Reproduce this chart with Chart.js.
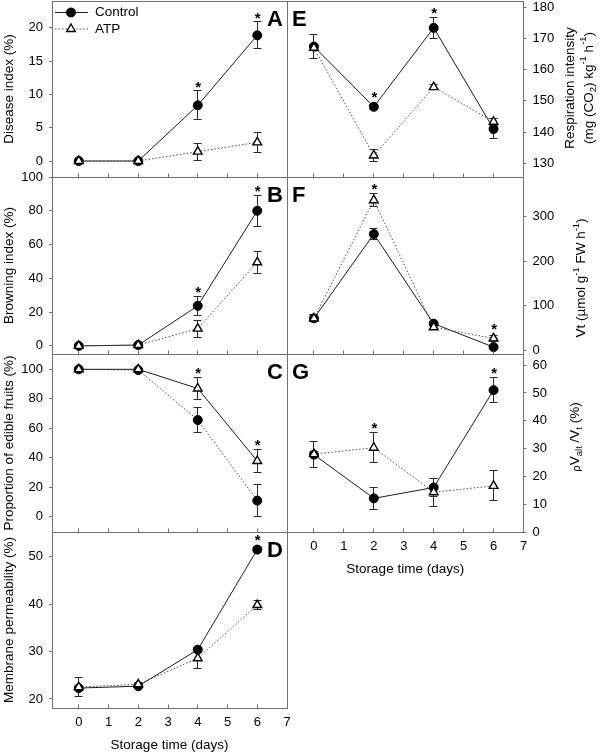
<!DOCTYPE html>
<html><head><meta charset="utf-8">
<script src="https://cdn.jsdelivr.net/npm/chart.js@4/dist/chart.umd.min.js"></script>
<style>
html,body{margin:0;padding:0;background:#fff;width:600px;height:753px;overflow:hidden;position:relative}
canvas{position:absolute}
</style></head><body>
<script>
// ---------- data ----------
const days = [0, 2, 4, 6];
const xTicks = [0, 1, 2, 3, 4, 5, 6, 7];
const xTitle = 'Storage time (days)';
const seriesNames = ['Control', 'ATP'];

// A: Disease index
const disCtrl = [0, 0, 8.35, 18.85];
const disCtrlErr = [0, 0, 2.15, 2.0];
const disATP = [0, 0, 1.4, 2.8];
const disATPErr = [0, 0, 1.3, 1.5];
const disTicks = [0, 5, 10, 15, 20];

// B: Browning index
const brCtrl = [0, 0.5, 23.7, 80];
const brCtrlErr = [0, 0, 5.6, 9.2];
const brATP = [0, 0.5, 10.2, 49.5];
const brATPErr = [0, 0, 5, 6.5];
const brTicks = [0, 20, 40, 60, 80, 100];

// C: Proportion of edible fruits
const edCtrl = [100, 99.5, 65.6, 10.9];
const edCtrlErr = [0, 0, 8.6, 11];
const edATP = [100, 100, 87, 37.8];
const edATPErr = [0, 0, 7.6, 8.1];
const edTicks = [0, 20, 40, 60, 80, 100];

// D: Membrane permeability
const mpCtrl = [22.3, 22.7, 30.4, 51.5];
const mpCtrlErr = [0, 0.3, 0.5, 0.6];
const mpATP = [22.5, 23.1, 28.6, 39.8];
const mpATPErr = [2, 0.4, 2.2, 1];
const mpTicks = [20, 30, 40, 50];

// E: Respiration intensity
const riCtrl = [167.4, 148.1, 173.4, 141];
const riCtrlErr = [3.8, 0.8, 3.3, 3.2];
const riATP = [167, 132.5, 154.4, 143.3];
const riATPErr = [1, 2, 0.7, 1.2];
const riTicks = [130, 140, 150, 160, 170, 180];

// F: Vt
const vtCtrl = [72, 261, 60, 7.5];
const vtCtrlErr = [8, 13, 5, 4];
const vtATP = [72, 337, 52, 27];
const vtATPErr = [8, 14, 4, 6];
const vtTicks = [0, 100, 200, 300];

// G: pValt/Vt
const paCtrl = [27.8, 12.1, 16, 51];
const paCtrlErr = [4.7, 4, 3.4, 4.6];
const paATP = [28, 30.3, 14.3, 16.6];
const paATPErr = [1, 5.4, 5, 5.4];
const paTicks = [0, 10, 20, 30, 40, 50, 60];

// ---------- rendering ----------
const FONT = "'Liberation Sans', Arial, Helvetica, sans-serif";
Chart.defaults.font.family = FONT;
Chart.defaults.color = '#000';
const FRAME = '#707070';
const TICKFONT = 13;
const TITLEFONT = 13.5;

function drawRich(ctx, cx, cy, segs, size) {
  ctx.save();
  ctx.translate(cx, cy);
  ctx.rotate(-Math.PI / 2);
  ctx.textBaseline = 'middle';
  ctx.textAlign = 'left';
  ctx.fillStyle = '#000';
  let total = 0;
  const items = segs.map(s => {
    const fs = s.k === 'sm' ? size * 0.85 : s.k ? size * 0.7 : size;
    ctx.font = fs + 'px ' + FONT;
    const w = ctx.measureText(s.t).width;
    total += w;
    return { t: s.t, k: s.k, fs, w };
  });
  let x = -total / 2;
  items.forEach(it => {
    ctx.font = it.fs + 'px ' + FONT;
    const dy = it.k === 'sup' ? -size * 0.38 : it.k === 'sub' ? size * 0.3 : it.k === 'sm' ? size * 0.1 : 0;
    ctx.fillText(it.t, x, dy);
    x += it.w;
  });
  ctx.restore();
}

function makePanel(p) {
  const right = p.col === 'right';
  const showX = !!p.showX;
  const padTop = 20, padBot = showX ? 0 : 20, xH = 45;
  const plotH = p.bottom - p.top;
  const cx = right ? 280 : 0, cw = right ? 320 : 300;
  const cy = p.top - padTop;
  const ch = padTop + plotH + (showX ? xH : padBot);
  const cv = document.createElement('canvas');
  cv.width = cw; cv.height = ch;
  cv.style.left = cx + 'px'; cv.style.top = cy + 'px';
  cv.style.width = cw + 'px'; cv.style.height = ch + 'px';
  document.body.appendChild(cv);

  const styleOf = s => ({
    borderColor: s.dashed ? '#4a4a4a' : '#1e1e1e',
    borderWidth: 1,
    borderDash: s.dashed ? [1.5, 2] : [],
    pointStyle: s.marker,
    pointRadius: s.marker === 'circle' ? 4.5 : 5,
    pointBackgroundColor: s.marker === 'circle' ? '#000' : '#fff',
    pointBorderColor: '#000',
    pointBorderWidth: s.marker === 'circle' ? 1 : 1.4,
    order: s.marker === 'circle' ? 1 : 0
  });

  const decor = {
    id: 'decor' + p.letter,
    beforeDatasetsDraw(chart) {
      const ctx = chart.ctx, xs = chart.scales.x, ys = chart.scales.y;
      ctx.save();
      ctx.strokeStyle = '#2a2a2a'; ctx.lineWidth = 1;
      p.series.forEach(s => {
        days.forEach((d, i) => {
          const e = s.errs[i];
          if (!e) return;
          const x = Math.floor(xs.getPixelForValue(d)) + 0.5;
          const y1 = ys.getPixelForValue(s.vals[i] + e);
          const y2 = ys.getPixelForValue(s.vals[i] - e);
          const r1 = Math.floor(y1) + 0.5, r2 = Math.floor(y2) + 0.5;
          ctx.beginPath();
          ctx.moveTo(x, r1); ctx.lineTo(x, r2);
          if (y2 - y1 > 3) {
            ctx.moveTo(x - 4, r1); ctx.lineTo(x + 4, r1);
            ctx.moveTo(x - 4, r2); ctx.lineTo(x + 4, r2);
          }
          ctx.stroke();
        });
      });
      ctx.restore();
    },
    afterDraw(chart) {
      const ctx = chart.ctx, ca = chart.chartArea, xs = chart.scales.x, ys = chart.scales.y;
      ctx.save();
      // frame
      const L = Math.floor(ca.left) + 0.5, R = Math.floor(ca.right) + 0.5;
      const T = Math.floor(ca.top) + 0.5, B = Math.floor(ca.bottom) + 0.5;
      ctx.strokeStyle = FRAME; ctx.lineWidth = 1;
      ctx.strokeRect(L, T, R - L, B - T);
      // inner x ticks
      ctx.beginPath();
      xTicks.forEach(v => {
        const x = Math.floor(xs.getPixelForValue(v)) + 0.5;
        ctx.moveTo(x, B); ctx.lineTo(x, B - 4);
      });
      ctx.stroke();
      // stars
      ctx.fillStyle = '#000';
      ctx.font = 'bold 15px ' + FONT;
      ctx.textAlign = 'center'; ctx.textBaseline = 'alphabetic';
      (p.stars || []).forEach(([si, i]) => {
        const s = p.series[si];
        const x = xs.getPixelForValue(days[i]);
        const yE = ys.getPixelForValue(s.vals[i] + s.errs[i]);
        const yP = ys.getPixelForValue(s.vals[i]) - 5;
        const y = Math.min(yE, yP);
        ctx.fillText('*', x + 0.5, y + 0.5);
      });
      // panel letter
      ctx.font = 'bold 22px ' + FONT;
      ctx.textBaseline = 'alphabetic';
      if (right) { ctx.textAlign = 'left'; ctx.fillText(p.letter, ca.left + 5, ca.top + 25); }
      else { ctx.textAlign = 'right'; ctx.fillText(p.letter, ca.right - 4, ca.top + 25); }
      // legend
      if (p.legend) {
        const lx = ca.left + 3, y1 = ca.top + 11.5, y2 = ca.top + 28;
        ctx.lineWidth = 1;
        ctx.strokeStyle = '#1e1e1e'; ctx.setLineDash([]);
        ctx.beginPath(); ctx.moveTo(lx, y1); ctx.lineTo(lx + 33, y1); ctx.stroke();
        ctx.strokeStyle = '#4a4a4a'; ctx.setLineDash([1.5, 2]);
        ctx.beginPath(); ctx.moveTo(lx, y2); ctx.lineTo(lx + 33, y2); ctx.stroke();
        ctx.setLineDash([]);
        ctx.fillStyle = '#000'; ctx.strokeStyle = '#000';
        Chart.helpers.drawPoint(ctx, { pointStyle: 'circle', radius: 4.5, borderWidth: 1, rotation: 0 }, lx + 16, y1);
        ctx.fillStyle = '#fff'; ctx.lineWidth = 1.4;
        Chart.helpers.drawPoint(ctx, { pointStyle: 'triangle', radius: 5, borderWidth: 1.4, rotation: 0 }, lx + 16, y2);
        ctx.fillStyle = '#000';
        ctx.font = '13.5px ' + FONT; ctx.textAlign = 'left'; ctx.textBaseline = 'middle';
        ctx.fillText(seriesNames[0], lx + 40, y1);
        ctx.fillText(seriesNames[1], lx + 40, y2);
      }
      // rich right titles
      if (p.rich) {
        p.rich.forEach(r => drawRich(ctx, ca.right + r.dx, r.cy - cy, r.segs, TITLEFONT));
      }
      ctx.restore();
    }
  };

  new Chart(cv, {
    type: 'line',
    data: {
      datasets: p.series.map(s => Object.assign({
        label: s.name,
        data: days.map((d, i) => ({ x: d, y: s.vals[i] })),
        tension: 0, fill: false
      }, styleOf(s)))
    },
    options: {
      responsive: false, animation: false, devicePixelRatio: 1, events: [],
      layout: { padding: { top: padTop, bottom: showX ? 0 : padBot, left: right ? 7 : 0, right: right ? 0 : 13 } },
      plugins: { legend: { display: false }, tooltip: { enabled: false } },
      scales: {
        x: {
          type: 'linear', min: -0.9, max: 7, display: showX,
          afterBuildTicks: sc => { sc.ticks = xTicks.map(v => ({ value: v })); },
          grid: { display: false, drawTicks: false },
          border: { display: false },
          ticks: { padding: 7, autoSkip: false, maxRotation: 0, font: { size: TICKFONT }, color: '#000', callback: v => String(v) },
          title: { display: true, text: xTitle, font: { size: TITLEFONT }, color: '#000', padding: { top: 0, bottom: 0 } },
          afterFit: sc => { sc.height = showX ? xH : 0; }
        },
        y: {
          type: 'linear', position: right ? 'right' : 'left', min: p.min, max: p.max,
          afterBuildTicks: sc => { sc.ticks = p.ticks.map(v => ({ value: v })); },
          grid: { drawOnChartArea: false, drawTicks: true, tickLength: 3, color: FRAME },
          border: { display: false },
          ticks: { padding: 6, autoSkip: false, font: { size: TICKFONT }, color: '#000', callback: v => String(v) },
          title: { display: !right, text: p.title || '', font: { size: TITLEFONT }, color: '#000', padding: { top: 1.5, bottom: 0 } },
          afterFit: sc => { sc.width = right ? 76.5 : 52; }
        }
      }
    },
    plugins: [decor]
  });
}

const C = (vals, errs, dashed) => ({ name: seriesNames[0], vals, errs, marker: 'circle', dashed });
const T = (vals, errs, dashed) => ({ name: seriesNames[1], vals, errs, marker: 'triangle', dashed });

makePanel({ col: 'left', letter: 'A', top: 1, bottom: 177, min: -2.4, max: 24, ticks: disTicks,
  title: 'Disease index (%)', legend: true,
  series: [C(disCtrl, disCtrlErr, false), T(disATP, disATPErr, true)], stars: [[0, 2], [0, 3]] });
makePanel({ col: 'left', letter: 'B', top: 177, bottom: 354, min: -4.8, max: 100, ticks: brTicks,
  title: 'Browning index (%)',
  series: [C(brCtrl, brCtrlErr, false), T(brATP, brATPErr, true)], stars: [[0, 2], [0, 3]] });
makePanel({ col: 'left', letter: 'C', top: 354, bottom: 532, min: -10.4, max: 110.4, ticks: edTicks,
  title: 'Proportion of edible fruits (%)',
  series: [C(edCtrl, edCtrlErr, true), T(edATP, edATPErr, false)], stars: [[1, 2], [1, 3]] });
makePanel({ col: 'left', letter: 'D', top: 532, bottom: 708, min: 18.1, max: 55.2, ticks: mpTicks,
  title: 'Membrane permeability (%)', showX: true,
  series: [C(mpCtrl, mpCtrlErr, false), T(mpATP, mpATPErr, true)], stars: [[0, 3]] });
makePanel({ col: 'right', letter: 'E', top: 1, bottom: 177, min: 125.6, max: 182, ticks: riTicks,
  series: [C(riCtrl, riCtrlErr, false), T(riATP, riATPErr, true)], stars: [[0, 1], [0, 2]],
  rich: [
    { dx: 46.5, cy: 88, segs: [{ t: 'Respiration intensity' }] },
    { dx: 65.5, cy: 88, segs: [{ t: '(mg (CO' }, { t: '2', k: 'sub' }, { t: ') kg' }, { t: '-1', k: 'sup' }, { t: ' h' }, { t: '-1', k: 'sup' }, { t: ')' }] }
  ] });
makePanel({ col: 'right', letter: 'F', top: 177, bottom: 354, min: -8, max: 389, ticks: vtTicks,
  series: [C(vtCtrl, vtCtrlErr, false), T(vtATP, vtATPErr, true)], stars: [[1, 1], [1, 3]],
  rich: [ { dx: 58, cy: 278, segs: [{ t: 'Vt (µmol g' }, { t: '-1', k: 'sup' }, { t: ' FW h' }, { t: '-1', k: 'sup' }, { t: ')' }] } ] });
makePanel({ col: 'right', letter: 'G', top: 354, bottom: 532, min: 0, max: 64, ticks: paTicks, showX: true,
  series: [C(paCtrl, paCtrlErr, false), T(paATP, paATPErr, true)], stars: [[1, 1], [0, 3]],
  rich: [ { dx: 52, cy: 437, segs: [{ t: 'ρ', k: 'sm' }, { t: 'V' }, { t: 'alt', k: 'sub' }, { t: ' /V' }, { t: 't', k: 'sub' }, { t: ' (%)' }] } ] });
</script>
</body></html>
